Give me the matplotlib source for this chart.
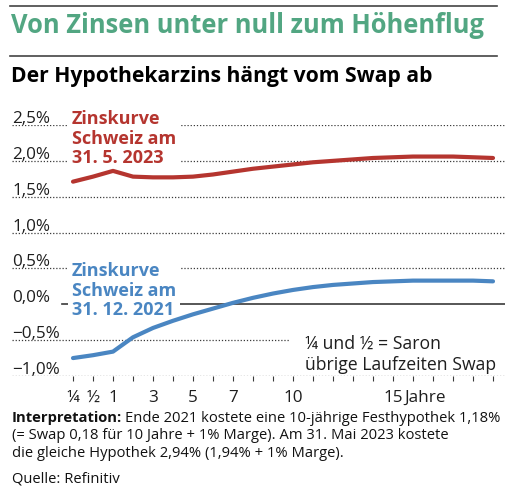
import matplotlib.pyplot as plt
import matplotlib.transforms as mtransforms
from matplotlib.lines import Line2D

# Laufzeiten (Index 0 = 1/4 Jahr, 1 = 1/2 Jahr, danach 1..20 Jahre)
laufzeiten = ["¼", "½"] + [str(j) for j in range(1, 21)]
zins_2021 = [-0.75, -0.71, -0.66, -0.46, -0.33, -0.23, -0.14, -0.06, 0.02, 0.09, 0.15,
             0.20, 0.24, 0.27, 0.29, 0.31, 0.32, 0.33, 0.33, 0.33, 0.33, 0.32]
zins_2023 = [1.71, 1.78, 1.86, 1.78, 1.77, 1.77, 1.78, 1.81, 1.85, 1.89, 1.92,
             1.95, 1.98, 2.00, 2.02, 2.04, 2.05, 2.06, 2.06, 2.06, 2.05, 2.04]
y_werte = [2.5, 2.0, 1.5, 1.0, 0.5, 0.0, -0.5, -1.0]
y_labels = ["2,5%", "2,0%", "1,5%", "1,0%", "0,5%", "0,0%", "\u22120,5%", "\u22121,0%"]
x_beschriftet = ["¼", "½", "1", "3", "5", "7", "10", "15"]

FONT = "Open Sans"
GRUEN = "#52a682"
ROT = "#b5352f"
BLAU = "#4a86c2"
GRAU = "#3a3a3a"
TEXT = "#1e1e1e"

W, H = 507, 489
plt.rcParams['font.family'] = FONT
fig = plt.figure(figsize=(W / 100, H / 100), dpi=100)

def fy(px):
    return 1 - px / H

# Linien oben
for ypx in (7, 57):
    fig.add_artist(Line2D([10 / W, 497 / W], [fy(ypx), fy(ypx)], color="#444444", lw=1.2))

fig.text(11 / W, fy(33), "Von Zinsen unter null zum Höhenflug", color=GRUEN,
         fontsize=18.4, fontweight="bold", va="baseline")
fig.text(11 / W, fy(82), "Der Hypothekarzins hängt vom Swap ab", color="black",
         fontsize=15.2, fontweight="bold", va="baseline")

ax = fig.add_axes([12 / W, fy(377), (505 - 12) / W, (377 - 126) / H])
x = list(range(len(laufzeiten)))
ax.set_xlim(-(73 - 12) / 20, 21 + (505 - 493) / 20)
ax.set_ylim(-1.0, 2.5)
for s in ax.spines.values():
    s.set_visible(False)

trans = mtransforms.blended_transform_factory(ax.transAxes, ax.transData)
for val, lab in zip(y_werte, y_labels):
    if val == 0:
        ax.axhline(val, xmin=50 / 493, color=GRAU, lw=1.2, zorder=1)
    elif val == -0.5:
        ax.axhline(val, xmax=(290 - 12) / 493, color=GRAU, lw=0.9, ls=(0, (1, 1.5)), zorder=1)
    else:
        ax.axhline(val, color=GRAU, lw=0.9, ls=(0, (1, 1.5)), zorder=1)
    ax.annotate(lab, xy=(0, val), xycoords=trans, xytext=(0, 2.2), textcoords="offset points",
                fontsize=12.3, color=TEXT, va="baseline", ha="left")

ax.plot(x, zins_2023, color=ROT, lw=3, solid_capstyle="round", zorder=3)
ax.plot(x, zins_2021, color=BLAU, lw=3, solid_capstyle="round", zorder=3)

ax.set_xticks(x)
ax.set_xticklabels([l if l in x_beschriftet else "" for l in laufzeiten], fontsize=12.3, color=TEXT)
ax.tick_params(axis="x", length=3.5, width=0.8, color=GRAU, pad=5.5)
ax.tick_params(axis="y", left=False, labelleft=False)
ax.annotate("Jahre", xy=(16.55, 0), xycoords=("data", "axes fraction"), xytext=(0, -17.8),
            textcoords="offset points", fontsize=12.3, color=TEXT, ha="left", va="baseline")

box = dict(facecolor="white", edgecolor="none", boxstyle="square,pad=0.2")
ax.text(-0.05, 1.98, "Zinskurve\nSchweiz am\n31. 5. 2023", color=ROT, fontsize=13,
        fontweight="bold", va="baseline", ha="left", linespacing=1.12, bbox=box, zorder=2)
ax.text(-0.05, -0.14, "Zinskurve\nSchweiz am\n31. 12. 2021", color=BLAU, fontsize=13,
        fontweight="bold", va="baseline", ha="left", linespacing=1.12, bbox=box, zorder=2)
ax.text(11.6, -0.9, "¼ und ½ = Saron\nübrige Laufzeiten Swap", color=TEXT,
        fontsize=12.7, va="baseline", ha="left", linespacing=1.22)

# Fusstext
FS = 10.6
t1 = fig.text(12 / W, fy(421.7), "Interpretation:", fontsize=FS, fontweight="bold",
              va="baseline", color="#111111")
fig.canvas.draw()
bb = t1.get_window_extent()
fig.text((bb.x1 + 3) / W, fy(421.7), "Ende 2021 kostete eine 10-jährige Festhypothek 1,18%",
         fontsize=FS, va="baseline", color="#111111")
fig.text(12 / W, fy(439.3), "(= Swap 0,18 für 10 Jahre + 1% Marge). Am 31. Mai 2023 kostete",
         fontsize=FS, va="baseline", color="#111111")
fig.text(12 / W, fy(457), "die gleiche Hypothek 2,94% (1,94% + 1% Marge).",
         fontsize=FS, va="baseline", color="#111111")
fig.text(12 / W, fy(483), "Quelle: Refinitiv", fontsize=FS, va="baseline", color="#111111")

fig.savefig("out.png", dpi=100)
